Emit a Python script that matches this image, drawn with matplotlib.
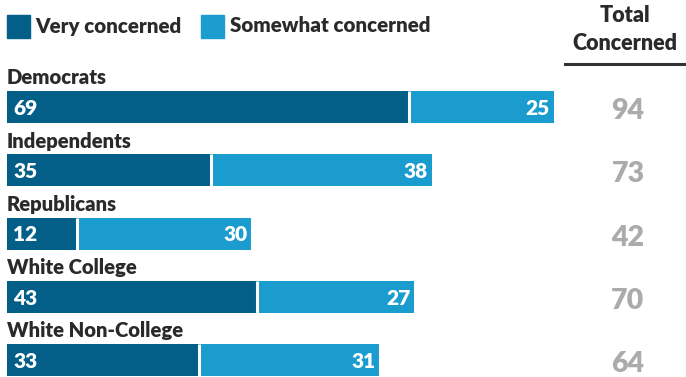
import matplotlib
matplotlib.use("Agg")
import matplotlib.pyplot as plt

categories = ["Democrats", "Independents", "Republicans", "White College", "White Non-College"]
very = [69, 35, 12, 43, 33]
somewhat = [25, 38, 30, 27, 31]
totals = [94, 73, 42, 70, 64]

dark = "#035E88"
light = "#1A9CCE"
gray = "#ABABAB"
txt = "#2A2A2A"
font = "Lato"
WT = 800

W, H = 686, 377
fig = plt.figure(figsize=(W / 100, H / 100), dpi=100)
ppu = 5.82  # pixels per unit
left_px = 7
ax = fig.add_axes([left_px / W, 0, (W - left_px) / W, 1])
ax.set_xlim(0, (W - left_px) / ppu)
row = 63.3
c0 = 107
ax.set_ylim((H - c0) / row, -c0 / row)
ax.axis("off")

h = 32 / row
ys = list(range(len(categories)))
ax.barh(ys, very, height=h, color=dark, edgecolor="none")
ax.barh(ys, somewhat, left=very, height=h, color=light, edgecolor="none")
for y, v, s, t, c in zip(ys, very, somewhat, totals, categories):
    ax.vlines(v, y - h / 2, y + h / 2, color="white", lw=2.2)
    ax.text(6 / ppu, y + 0.02, str(v), color="white", fontsize=15, fontweight=WT,
            family=font, va="center", ha="left")
    ax.text(v + s - 4 / ppu, y + 0.02, str(s), color="white", fontsize=15, fontweight=WT,
            family=font, va="center", ha="right")
    ax.text(0, y - h / 2 - 0.06, c, color=txt, fontsize=14.6, fontweight=WT,
            family=font, va="bottom", ha="left")
    ax.text((628 - left_px) / ppu, y + 0.065, str(t), color=gray, fontsize=20.5, fontweight=WT,
            family=font, va="center", ha="center")

# legend
def px(x, y):
    return x / W, 1 - y / H

fig.patches.append(plt.Rectangle(px(7, 38), 23 / W, 23 / H, color=dark, transform=fig.transFigure))
fig.patches.append(plt.Rectangle(px(201, 38), 23 / W, 23 / H, color=light, transform=fig.transFigure))
fig.text(*px(35, 26), "Very concerned", color=txt, fontsize=14.8, fontweight=WT,
         family=font, va="center", ha="left")
fig.text(*px(230, 26), "Somewhat concerned", color=txt, fontsize=14.8, fontweight=WT,
         family=font, va="center", ha="left")

fig.text(*px(625, 16), "Total", color=txt, fontsize=15.5, fontweight=WT,
         family=font, va="center", ha="center")
fig.text(*px(625, 43), "Concerned", color=txt, fontsize=15.5, fontweight=WT,
         family=font, va="center", ha="center")
fig.add_artist(plt.Line2D([565 / W, 686 / W], [1 - 64 / H, 1 - 64 / H], color="#333333", lw=2.2))

fig.savefig("out.png", dpi=100)
